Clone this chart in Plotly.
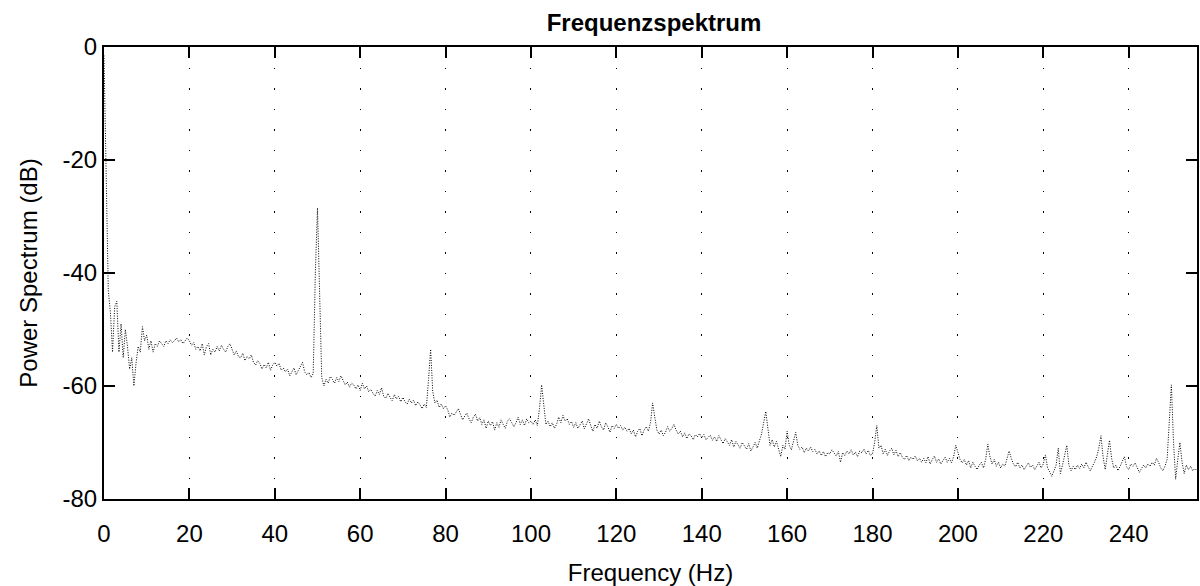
import plotly.graph_objects as go

# Power spectrum values (dB) at 0.5 Hz steps
p_000_010 = [-1.5, -20, -43, -47, -54, -46, -45, -54, -49, -55, -50, -53, -57, -55, -60, -56, -53, -54, -49.5, -52]
p_010_020 = [-51, -53.5, -52, -54, -52.5, -53, -52, -52.5, -53, -52, -52.5, -51.8, -52.3, -52, -51.5, -52.2, -51.8, -52.5, -52, -51.5]
p_020_030 = [-52, -52.8, -52.3, -53.5, -53, -53.8, -52.5, -54.5, -53, -52.5, -54.5, -53.5, -54, -53, -53.8, -52.8, -53.5, -54, -53, -52.5]
p_030_040 = [-53.5, -54.5, -53.8, -54.8, -55, -54.2, -55.5, -54.8, -55.2, -54.5, -55.8, -56.3, -55.5, -56, -57, -56.2, -56.8, -55.8, -57.2, -56.3]
p_040_050 = [-55.8, -56.5, -56, -57.2, -56.8, -57.5, -57, -58.2, -57.5, -56.8, -58, -57.3, -56.5, -55.8, -57.5, -58, -57.6, -58.5, -57.8, -40]
p_050_060 = [-28.5, -44, -58.5, -60, -58.8, -59.5, -58.3, -58.8, -59.5, -58.5, -59.2, -58.2, -59, -59.8, -59.3, -60.2, -59.5, -59.8, -60.5, -59.8]
p_060_070 = [-60.8, -59.5, -60.5, -60, -61, -60.6, -61.3, -61.8, -60.8, -61.5, -60.3, -61.8, -62.2, -61.3, -62, -62.6, -61.5, -62.3, -61.8, -62.8]
p_070_080 = [-62, -62.8, -63.2, -62.3, -63, -62.5, -63.5, -62.8, -63.3, -64, -63.2, -63.8, -59, -53.5, -61, -63, -62.5, -63.8, -63.2, -64]
p_080_090 = [-63.5, -64.2, -65.5, -64.8, -65.2, -64.5, -64, -65, -66, -65.3, -64.8, -65.8, -66.5, -65.5, -65, -66.2, -65.6, -66.8, -66, -67.5]
p_090_100 = [-66.2, -67, -66.3, -67.8, -66.5, -67.3, -66, -66.8, -67.5, -66.2, -65.8, -66.5, -67.2, -66.5, -65.5, -66.8, -66, -67, -65.8, -66.5]
p_100_110 = [-66.2, -66.8, -66, -67, -64, -59.8, -63, -66.8, -66.2, -67.2, -66.5, -67.5, -66.8, -65.5, -66.5, -65.2, -66.2, -65.8, -66.8, -66.3]
p_110_120 = [-67.3, -66.5, -67.5, -66.8, -66.2, -67.6, -66.5, -65.8, -67, -68, -66.8, -67.5, -66.2, -67.2, -67.8, -66.5, -67.2, -68.2, -67, -67.5]
p_120_130 = [-66.8, -67.5, -67, -67.8, -67.3, -68, -67.5, -68.5, -67.8, -69, -68, -67.5, -68.8, -67.8, -67.2, -68, -66.5, -63, -65.5, -67.8]
p_130_140 = [-68.5, -67.8, -68.8, -68.2, -67.2, -68, -67.5, -66.8, -67.8, -68.5, -68, -69, -68.3, -69.3, -68.5, -68.8, -69.5, -68.6, -69, -68.4]
p_140_150 = [-69.2, -68.6, -69.5, -69, -68.7, -69.6, -69, -69.8, -68.8, -69.5, -70.2, -69.3, -69.8, -70.5, -69.5, -70.8, -69.8, -70.3, -71, -70]
p_150_160 = [-70.5, -71.2, -70.2, -71.5, -70.8, -70, -71, -69.8, -68.5, -66.5, -64.5, -67.5, -70.5, -69.5, -70.8, -69.8, -71, -72.5, -70.5, -71.2]
p_160_170 = [-68, -70.5, -71.3, -69.8, -68.2, -70.5, -71.2, -70.8, -71.8, -71, -71.5, -70.8, -71.6, -71.2, -72, -71.5, -72.3, -71.6, -72.5, -71.8]
p_170_180 = [-72, -71.3, -71.8, -72.4, -71.6, -73.5, -71.8, -72.3, -71.5, -72, -71.3, -72.2, -71.7, -72.5, -71.5, -71.8, -71.2, -72, -71.4, -72.3]
p_180_190 = [-72, -70, -67, -71, -70.5, -72, -71.2, -72.3, -71.5, -71, -72.2, -71.4, -72.5, -71.8, -72.6, -73, -72.3, -73.2, -72.6, -73]
p_190_200 = [-72.4, -73.2, -72.8, -73.5, -72.8, -73.6, -72.5, -73.8, -73, -72.4, -73.5, -72.9, -73.8, -73.2, -72.6, -73.5, -72.8, -73.6, -72.5, -70.5]
p_200_210 = [-72, -73, -73.6, -73, -74, -73.2, -74.5, -73.5, -74.2, -74.8, -74, -73.5, -74.5, -73, -70.3, -72.5, -73.8, -73, -74.2, -73.5]
p_210_220 = [-74.5, -73.8, -74.2, -73, -71.5, -72.8, -73.8, -74.3, -73.5, -74.5, -74, -74.8, -74.2, -73.6, -74.4, -74, -74.8, -74.2, -73.5, -74.5]
p_220_230 = [-73.8, -72.2, -74.5, -75.2, -76, -75, -74, -71, -75.5, -74, -72.5, -70.5, -74, -75, -74.2, -74.8, -74, -74.6, -73.8, -74.5]
p_230_240 = [-73.5, -74.3, -75, -74.2, -73.5, -72.5, -71, -68.8, -72.5, -74.8, -72, -69.6, -72.8, -74.5, -74, -75, -74.2, -73.2, -72.5, -74.3]
p_240_250 = [-74.8, -73.8, -74.2, -73.6, -74.5, -75.3, -74.6, -74, -74.5, -73.8, -74.2, -73.5, -74, -72.8, -73.5, -74.5, -75, -74.2, -73, -66]
p_250_256 = [-59.8, -70, -76.5, -73, -70, -73.5, -75.5, -74, -74.8, -74.2, -75, -74.6, -75]

power_db = (p_000_010 + p_010_020 + p_020_030 + p_030_040 + p_040_050 + p_050_060
            + p_060_070 + p_070_080 + p_080_090 + p_090_100 + p_100_110 + p_110_120
            + p_120_130 + p_130_140 + p_140_150 + p_150_160 + p_160_170 + p_170_180
            + p_180_190 + p_190_200 + p_200_210 + p_210_220 + p_220_230 + p_230_240
            + p_240_250 + p_250_256)
freq_step = 0.5
freq_hz = [i * freq_step for i in range(len(power_db))]

x_ticks = [0, 20, 40, 60, 80, 100, 120, 140, 160, 180, 200, 220, 240]
y_ticks = [-80, -60, -40, -20, 0]

FONT = "Liberation Sans, Arial, sans-serif"
FS = 24

fig = go.Figure()
fig.add_trace(go.Scatter(
    x=freq_hz, y=power_db, mode="lines",
    line=dict(color="black", width=1, dash="1px,1.5px"),
    showlegend=False,
))

fig.update_layout(
    width=1200, height=586,
    margin=dict(l=104, r=1, t=47, b=87),
    paper_bgcolor="white", plot_bgcolor="white",
    font=dict(family=FONT, size=FS, color="black"),
    title=dict(text="<b>Frequenzspektrum</b>", x=0.545, xanchor="center",
               y=0.962, yanchor="middle", font=dict(family=FONT, size=FS, color="black")),
)
fig.update_xaxes(
    range=[0, 256], tickvals=x_ticks, ticktext=[str(v) for v in x_ticks],
    ticks="inside", ticklen=11, tickwidth=2, tickcolor="black",
    showline=True, linecolor="black", linewidth=2, mirror="ticks",
    showgrid=True, gridcolor="black", gridwidth=1, griddash="1.5px,19px",
    zeroline=False, ticklabelstandoff=12,
    title=dict(text="Frequency (Hz)", standoff=20, font=dict(size=FS)),
    tickfont=dict(size=FS),
)
fig.update_yaxes(
    range=[-80, 0], tickvals=y_ticks, ticktext=[str(v) for v in y_ticks],
    ticks="inside", ticklen=11, tickwidth=2, tickcolor="black",
    showline=True, linecolor="black", linewidth=2, mirror="ticks",
    showgrid=False, zeroline=False,
    title=dict(text="Power Spectrum (dB)", standoff=18, font=dict(size=FS)),
    tickfont=dict(size=FS),
)

fig.write_html("out.html")
